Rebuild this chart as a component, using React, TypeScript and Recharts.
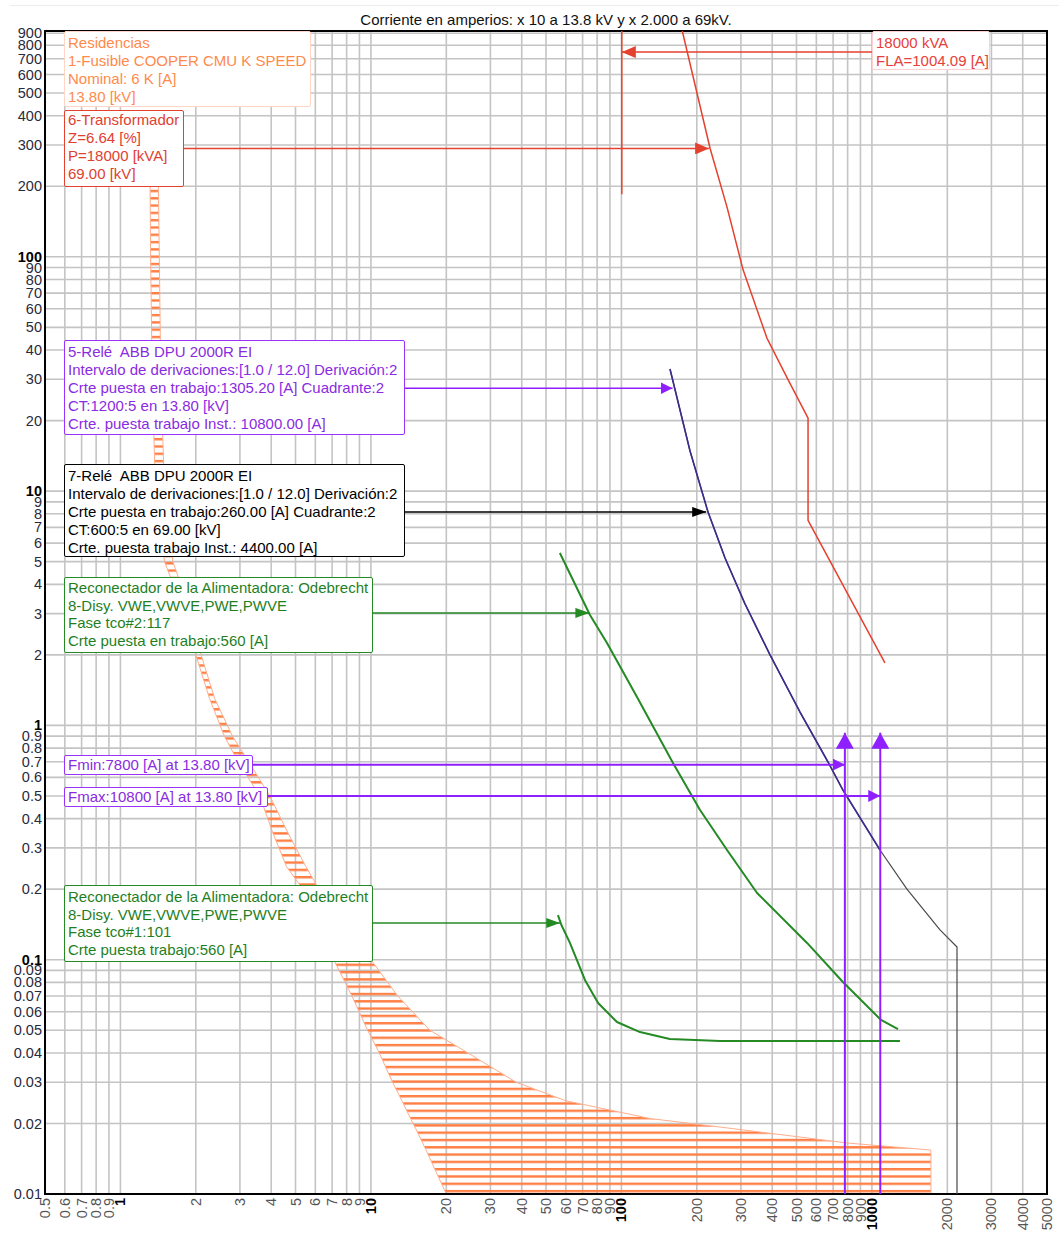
import React from "react";
import {
  ComposedChart,
  Line,
  Area,
  XAxis,
  YAxis,
  CartesianGrid,
  ReferenceArea,
} from "recharts";

// Axis ticks (current x10 at 13.8 kV, time in seconds)
const xTicks = [
  0.5, 0.6, 0.7, 0.8, 0.9, 1, 2, 3, 4, 5, 6, 7, 8, 9, 10, 20, 30, 40, 50, 60, 70, 80, 90,
  100, 200, 300, 400, 500, 600, 700, 800, 900, 1000, 2000, 3000, 4000, 5000,
];
const yTicks = [
  0.01, 0.02, 0.03, 0.04, 0.05, 0.06, 0.07, 0.08, 0.09, 0.1, 0.2, 0.3, 0.4, 0.5, 0.6, 0.7,
  0.8, 0.9, 1, 2, 3, 4, 5, 6, 7, 8, 9, 10, 20, 30, 40, 50, 60, 70, 80, 90, 100, 200, 300,
  400, 500, 600, 700, 800, 900,
];
const xMajor = [1, 10, 100, 1000];
const yMajor = [0.1, 1, 10, 100];

// 1-Fusible COOPER 6K band (min melt / total clear)
const fuseTime = [300, 100, 30, 10, 5, 3, 2, 1.3, 0.9, 0.7, 0.5, 0.35, 0.25, 0.2, 0.15, 0.1, 0.07, 0.05, 0.04, 0.03, 0.025, 0.021, 0.019, 0.0165, 0.0154, 0.01];
const fuseMinMelt = [1.31, 1.32, 1.34, 1.38, 1.5, 1.8, 2.0, 2.27, 2.6, 2.95, 3.6, 4.05, 4.6, 5.35, 6.1, 7.1, 8.4, 9.7, 10.8, 12.2, 13.3, 14.4, 15.1, 16.1, 16.6, 20];
const fuseTotalClear = [1.41, 1.43, 1.45, 1.5, 1.62, 1.92, 2.1, 2.38, 2.8, 3.25, 3.95, 4.65, 5.5, 6.2, 7.6, 10.0, 12.8, 17.2, 24.4, 38, 60, 130, 280, 800, 1720, 1720];

// 6-Transformador damage curve
const xfmrTime = [920, 290, 163, 88, 45, 30, 20.5, 7.5, 1.85];
const xfmrAmps = [175, 226, 264, 306, 381, 462, 556, 556, 1127];

// 5-Relé (ends at inst. pickup) and 7-Relé (continues to its instantaneous drop)
const relay5Time = [33.2, 14.83, 8.14, 5.18, 3.3, 2.0, 1.141, 0.698, 0.53, 0.294];
const relay5Amps = [156.3, 187.9, 221.7, 259.2, 311.5, 392, 516, 668, 766, 1077];
const relay7Time = [33.2, 14.83, 8.14, 5.18, 3.3, 2.0, 1.141, 0.698, 0.53, 0.294, 0.2, 0.134, 0.1133, 0.01];
const relay7Amps = [156.3, 187.9, 221.7, 259.2, 311.5, 392, 516, 668, 766, 1077, 1380, 1870, 2186, 2186];

// 8-Disy. recloser, tcc#2 (slow) and tcc#1 (fast)
const tcc2Time = [5.44, 2.96, 2.247, 1.322, 0.691, 0.4355, 0.294, 0.1926, 0.1179, 0.0803, 0.0553, 0.0506];
const tcc2Amps = [56.8, 74.9, 87.6, 115.4, 160.7, 206, 264, 348, 551, 766, 1087, 1271];
const tcc1Time = [0.155, 0.1406, 0.118, 0.0818, 0.0653, 0.0542, 0.0491, 0.0459, 0.045, 0.045];
const tcc1Amps = [55.8, 57.6, 62.3, 71.6, 80.7, 96, 118.6, 156, 248, 1294];

// label arrows
const xfmrArrowT = [290, 290];
const xfmrArrowA = [0.6, 224];
const flaArrowT = [748, 748];
const flaArrowA = [1000, 100.4];
const flaLineT = [920, 185];
const flaLineA = [100.4, 100.4];
const relay5ArrowT = [27.5, 27.5];
const relay5ArrowA = [0.6, 160];
const relay7ArrowT = [8.15, 8.15];
const relay7ArrowA = [0.6, 218];
const tcc2ArrowT = [3.02, 3.02];
const tcc2ArrowA = [0.6, 74.5];
const tcc1ArrowT = [0.1434, 0.1434];
const tcc1ArrowA = [0.6, 57];
const fminArrowT = [0.68, 0.68];
const fminArrowA = [0.6, 780];
const fmaxArrowT = [0.5, 0.5];
const fmaxArrowA = [0.6, 1080];
const fminLineT = [0.01, 0.93];
const fminLineA = [780, 780];
const fmaxLineT = [0.01, 0.93];
const fmaxLineA = [1080, 1080];

const pts = (t: number[], a: number[]) => t.map((v, i) => ({ t: v, a: a[i] }));
const bandData = fuseTime.map((t, i) => ({ t, band: [fuseMinMelt[i], fuseTotalClear[i]] }));

const FONT = '"Liberation Sans", Arial, sans-serif';
const RED = "#e5412f";
const VIOLET = "#8f1fff";
const GREEN = "#248a24";

const XTick = ({ x, y, payload }: any) => {
  const major = xMajor.includes(payload.value);
  return (
    <text
      x={x}
      y={y}
      transform={`rotate(-90 ${x} ${y})`}
      textAnchor="end"
      dy="0.35em"
      fontFamily={FONT}
      fontSize={14.5}
      fontWeight={major ? 700 : 400}
      fill={major ? "#000" : "#555"}
    >
      {String(payload.value)}
    </text>
  );
};

const YTick = ({ x, y, payload }: any) => {
  const major = yMajor.includes(payload.value);
  return (
    <text
      x={x}
      y={y}
      textAnchor="end"
      dy="0.35em"
      fontFamily={FONT}
      fontSize={14.5}
      fontWeight={major ? 700 : 400}
      fill={major ? "#000" : "#2a2a3a"}
    >
      {String(payload.value)}
    </text>
  );
};

const marker = (id: string, color: string, len: number, wid: number) => (
  <marker
    id={id}
    viewBox={`0 0 ${len} ${wid}`}
    refX={len}
    refY={wid / 2}
    markerWidth={len}
    markerHeight={wid}
    markerUnits="userSpaceOnUse"
    orient="auto"
  >
    <path d={`M0,0 L${len},${wid / 2} L0,${wid} Z`} fill={color} />
  </marker>
);

function LabelBox({ left, top, width, height, lines, color, border, bw = 1.5, lh = 18, pt = 1 }: any) {
  return (
    <div
      style={{
        position: "absolute",
        left,
        top,
        width,
        height,
        boxSizing: "border-box",
        border: `${bw}px solid ${border}`,
        borderRadius: 2,
        background: "#fff",
        color,
        fontFamily: FONT,
        fontSize: 15,
        lineHeight: `${lh}px`,
        paddingLeft: 3,
        paddingTop: pt,
        whiteSpace: "pre",
        overflow: "hidden",
      }}
    >
      {lines.map((l: string, i: number) => (
        <div key={i}>{l}</div>
      ))}
    </div>
  );
}

const line = (key: string, data: any[], color: string, width: number, markerId?: string) => (
  <Line
    key={key}
    data={data}
    dataKey="a"
    type="linear"
    stroke={color}
    strokeWidth={width}
    strokeLinejoin="round"
    dot={false}
    activeDot={false}
    isAnimationActive={false}
    markerEnd={markerId ? `url(#${markerId})` : undefined}
  />
);

export default function App() {
  return (
    <div style={{ position: "absolute", left: 0, top: 0, width: 1059, height: 1236, background: "#fff" }}>
      <div style={{ position: "absolute", left: 10, right: 0, top: 5, borderTop: "1px solid #ececec" }} />
      <ComposedChart
        width={1059}
        height={1236}
        layout="vertical"
        margin={{ top: 31, right: 12, bottom: 0, left: 5 }}
      >
        <defs>
          <pattern id="fuseHatch" patternUnits="userSpaceOnUse" x="0" y="0" width="10" height="7.3">
            <rect x="0" y="0" width="10" height="2.4" fill="#ff7f45" />
          </pattern>
          {marker("arRed", RED, 14, 12)}
          {marker("arBlack", "#000", 14, 10)}
          {marker("arGreen", GREEN, 14, 10)}
          {marker("arViolet", VIOLET, 12, 12)}
          {marker("arVioletUp", VIOLET, 16, 18)}
        </defs>
        <CartesianGrid stroke="#c4c4c4" strokeWidth={1.6} />
        <XAxis
          type="number"
          dataKey="a"
          scale="log"
          domain={[0.5, 5000]}
          allowDataOverflow
          ticks={xTicks}
          interval={0}
          height={42}
          tickSize={0}
          tickMargin={4}
          tickLine={false}
          axisLine={false}
          tick={<XTick />}
        />
        <YAxis
          type="number"
          dataKey="t"
          scale="log"
          domain={[0.01, 920]}
          allowDataOverflow
          reversed
          ticks={yTicks}
          interval={0}
          width={40}
          tickSize={0}
          tickMargin={3}
          tickLine={false}
          axisLine={false}
          tick={<YTick />}
        />
        <Area
          data={bandData}
          dataKey="band"
          type="linear"
          fill="url(#fuseHatch)"
          fillOpacity={1}
          stroke="#ffae8c"
          strokeWidth={1}
          dot={false}
          activeDot={false}
          isAnimationActive={false}
        />
        {line("xfmr", pts(xfmrTime, xfmrAmps), RED, 1.5)}
        {line("flaLine", pts(flaLineT, flaLineA), RED, 1.5)}
        {line("relay7", pts(relay7Time, relay7Amps), "#4a4a4a", 1.2)}
        {line("relay5", pts(relay5Time, relay5Amps), "#3d2b8f", 1.6)}
        {line("tcc2", pts(tcc2Time, tcc2Amps), GREEN, 2)}
        {line("tcc1", pts(tcc1Time, tcc1Amps), GREEN, 2)}
        {line("xfmrArrow", pts(xfmrArrowT, xfmrArrowA), RED, 1.5, "arRed")}
        {line("flaArrow", pts(flaArrowT, flaArrowA), RED, 1.5, "arRed")}
        {line("relay5Arrow", pts(relay5ArrowT, relay5ArrowA), VIOLET, 1.5, "arViolet")}
        {line("relay7Arrow", pts(relay7ArrowT, relay7ArrowA), "#000", 1.5, "arBlack")}
        {line("tcc2Arrow", pts(tcc2ArrowT, tcc2ArrowA), GREEN, 1.5, "arGreen")}
        {line("tcc1Arrow", pts(tcc1ArrowT, tcc1ArrowA), GREEN, 1.5, "arGreen")}
        {line("fminArrow", pts(fminArrowT, fminArrowA), VIOLET, 2, "arViolet")}
        {line("fmaxArrow", pts(fmaxArrowT, fmaxArrowA), VIOLET, 2, "arViolet")}
        {line("fminLine", pts(fminLineT, fminLineA), VIOLET, 2, "arVioletUp")}
        {line("fmaxLine", pts(fmaxLineT, fmaxLineA), VIOLET, 2, "arVioletUp")}
        <ReferenceArea
          x1={0.5}
          x2={5000}
          y1={0.01}
          y2={920}
          ifOverflow="visible"
          fill="none"
          stroke="#000"
          strokeWidth={2}
        />
      </ComposedChart>

      <div
        style={{
          position: "absolute",
          left: 45,
          width: 1002,
          top: 11,
          textAlign: "center",
          fontFamily: FONT,
          fontSize: 15,
          lineHeight: "18px",
          color: "#111",
        }}
      >
        Corriente en amperios: x 10 a 13.8 kV y x 2.000 a 69kV.
      </div>

      <LabelBox
        left={64} top={31} width={247} height={76} bw={1} pt={2}
        color="#ff8a4c" border="#ffd6c6"
        lines={["Residencias", "1-Fusible COOPER CMU K SPEED", "Nominal: 6 K [A]", "13.80 [kV]"]}
      />
      <LabelBox
        left={64} top={110} width={120} height={77} pt={0}
        color="#e0402f" border={RED}
        lines={["6-Transformador", "Z=6.64 [%]", "P=18000 [kVA]", "69.00 [kV]"]}
      />
      <LabelBox
        left={872} top={31} width={118} height={39} bw={1} pt={2}
        color="#e8403a" border="#ffd0d0"
        lines={["18000 kVA", "FLA=1004.09 [A]"]}
      />
      <LabelBox
        left={64} top={340} width={341} height={95} pt={2}
        color="#8a2be2" border="#9b30ff"
        lines={[
          "5-Relé  ABB DPU 2000R EI",
          "Intervalo de derivaciones:[1.0 / 12.0] Derivación:2",
          "Crte puesta en trabajo:1305.20 [A] Cuadrante:2",
          "CT:1200:5 en 13.80 [kV]",
          "Crte. puesta trabajo Inst.: 10800.00 [A]",
        ]}
      />
      <LabelBox
        left={64} top={464} width={341} height={93} pt={2}
        color="#000" border="#000"
        lines={[
          "7-Relé  ABB DPU 2000R EI",
          "Intervalo de derivaciones:[1.0 / 12.0] Derivación:2",
          "Crte puesta en trabajo:260.00 [A] Cuadrante:2",
          "CT:600:5 en 69.00 [kV]",
          "Crte. puesta trabajo Inst.: 4400.00 [A]",
        ]}
      />
      <LabelBox
        left={64} top={577} width={309} height={76} pt={1} lh={17.7}
        color="#1f7f1f" border={GREEN}
        lines={[
          "Reconectador de la Alimentadora: Odebrecht",
          "8-Disy. VWE,VWVE,PWE,PWVE",
          "Fase tco#2:117",
          "Crte puesta en trabajo:560 [A]",
        ]}
      />
      <LabelBox
        left={64} top={755} width={189} height={20} pt={0}
        color="#8a2be2" border="#9b30ff"
        lines={["Fmin:7800 [A] at 13.80 [kV]"]}
      />
      <LabelBox
        left={64} top={787} width={204} height={20} pt={0}
        color="#8a2be2" border="#9b30ff"
        lines={["Fmax:10800 [A] at 13.80 [kV]"]}
      />
      <LabelBox
        left={64} top={885} width={309} height={77} pt={2} lh={17.7}
        color="#1f7f1f" border={GREEN}
        lines={[
          "Reconectador de la Alimentadora: Odebrecht",
          "8-Disy. VWE,VWVE,PWE,PWVE",
          "Fase tco#1:101",
          "Crte puesta trabajo:560 [A]",
        ]}
      />
    </div>
  );
}
